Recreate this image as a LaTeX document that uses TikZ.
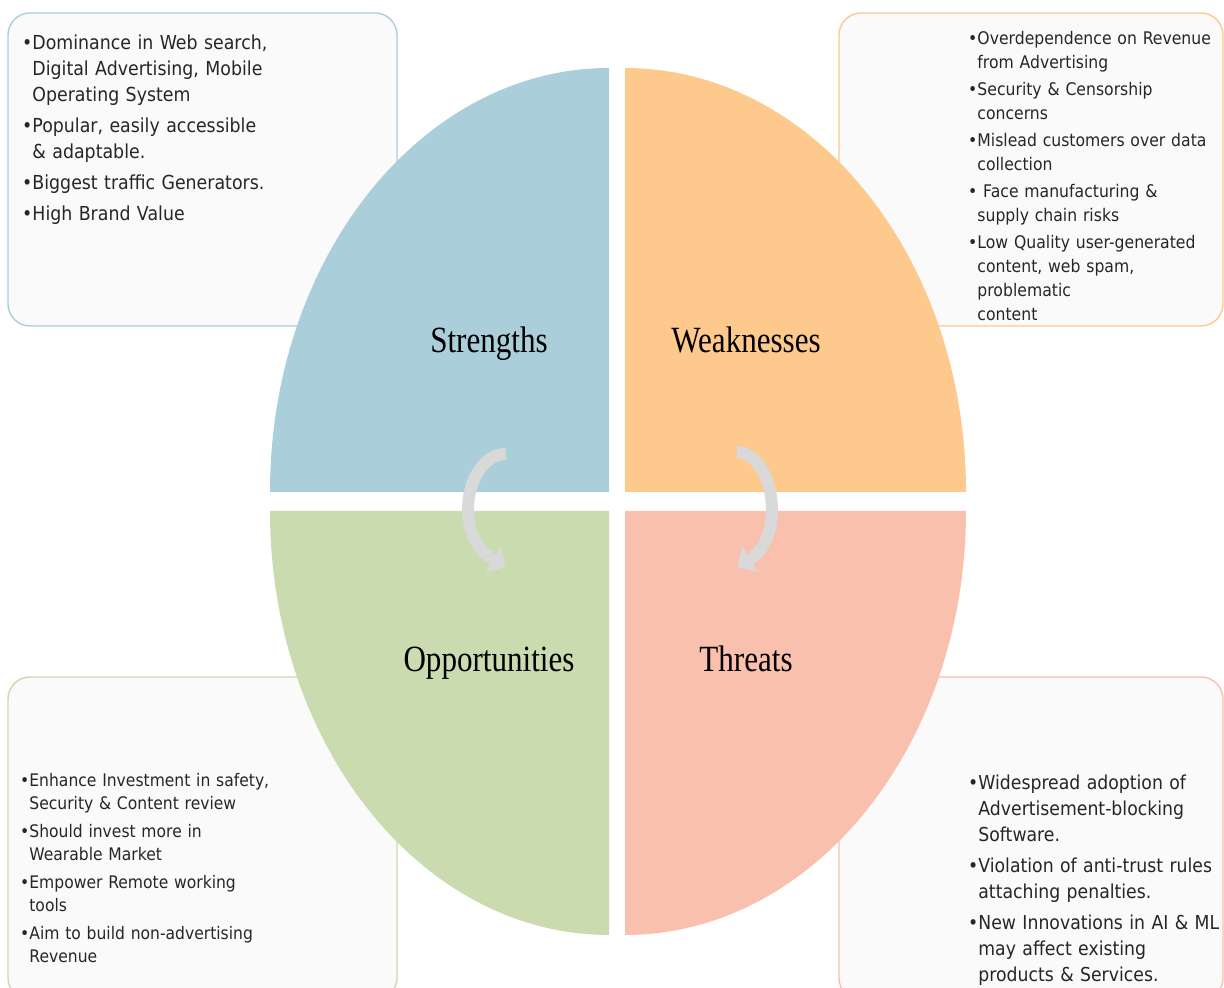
\documentclass[tikz,border=0pt]{standalone}
\usepackage{fontspec}
\setmainfont{DejaVu Sans}[FakeStretch=0.9]
\newfontfamily\titlefont{Liberation Serif}[FakeStretch=0.84]
\usetikzlibrary{arrows.meta, positioning, calc}
\definecolor{strcol}{HTML}{ABCFDA}
\definecolor{weakcol}{HTML}{FDC98C}
\definecolor{oppcol}{HTML}{C9DBAF}
\definecolor{thrcol}{HTML}{FAC0AE}
\definecolor{boxfill}{HTML}{FAFAFA}
\definecolor{cyccol}{HTML}{D9D9D9}
\definecolor{txtcol}{HTML}{262626}
\newcommand{\pitem}[1]{\par\setbox0\hbox{\textbullet}\leftskip=\wd0\noindent\llap{\textbullet}#1\par}

\begin{document}
\begin{tikzpicture}[
  x=1pt, y=1pt,
  >={Triangle[width=29pt,length=15pt]},
  infobox/.style={rounded corners=22pt, fill=boxfill, line width=1.4pt},
  title/.style={font=\titlefont\fontsize{37}{40}\selectfont, inner sep=0pt, anchor=base},
  points/.style={anchor=north west, inner sep=0pt, text width=300pt, align=left,
                 text=txtcol},
  cycarrow/.style={->, draw=cyccol, line width=12pt},
]
\useasboundingbox (0,0) rectangle (1224,988);
% info boxes behind the quadrants
\draw[infobox, draw=strcol]  (8,662) rectangle (397,975);
\draw[infobox, draw=weakcol] (839,662) rectangle (1223,975);
\draw[infobox, draw=oppcol]  (8,-12) rectangle (397,311);
\draw[infobox, draw=thrcol]  (839,-12) rectangle (1223,311);

\coordinate (Scorner) at (609,496);
\coordinate (Wcorner) at (625,496);
\coordinate (Ocorner) at (609,477);
\coordinate (Tcorner) at (625,477);
\fill[strcol]  (Scorner) -- ++(-339,0) arc[start angle=180, end angle=90, x radius=339, y radius=424] -- cycle;
\fill[weakcol] (Wcorner) -- ++(0,424) arc[start angle=90, end angle=0, x radius=341, y radius=424] -- cycle;
\fill[oppcol]  (Ocorner) -- ++(-339,0) arc[start angle=180, end angle=270, x radius=339, y radius=424] -- cycle;
\fill[thrcol]  (Tcorner) -- ++(341,0) arc[start angle=0, end angle=-90, x radius=341, y radius=424] -- cycle;

\node[title] (strengths) at (489,635) {Strengths};
\node[title] (weaknesses) at (746,635) {Weaknesses};
\node[title] (opportunities) at (489,316) {Opportunities};
\node[title] (threats) at (746,316) {Threats};

% cycle arrows
\coordinate (Scycstart) at (506,534);
\coordinate (Scycmid)   at (468,478);
\coordinate (Scycend)   at (506,421);
\coordinate (Wcycstart) at (737,536);
\coordinate (Wcycmid)   at (772,478);
\coordinate (Wcycend)   at (737,421);
\draw[cycarrow] (Scycstart) .. controls +(-22,0) and +(0,30) .. (Scycmid)
  .. controls +(0,-25) and +(-26,15) .. (Scycend);
\draw[cycarrow] (Wcycstart) .. controls +(20,0) and +(0,30) .. (Wcycmid)
  .. controls +(0,-25) and +(25,15) .. (Wcycend);

% box texts
\node[points, font=\fontsize{19.3}{26}\selectfont\setlength{\parskip}{5pt}] (strtext) at (22,970) {%
  \pitem{Dominance in Web search,\\Digital Advertising, Mobile\\Operating System}
  \pitem{Popular, easily accessible\\\& adaptable.}
  \pitem{Biggest traffic Generators.}
  \pitem{High Brand Value}};
\node[points, font=\fontsize{17.4}{24}\selectfont\setlength{\parskip}{3pt}] (weaktext) at (968,971) {%
  \pitem{Overdependence on Revenue\\from Advertising}
  \pitem{Security \& Censorship\\concerns}
  \pitem{Mislead customers over data\\collection}
  \pitem{\ Face manufacturing \&\\supply chain risks}
  \pitem{Low Quality user-generated\\content, web spam,\\problematic\\content}};
\node[points, font=\fontsize{17.3}{23}\selectfont\setlength{\parskip}{5pt}] (opptext) at (20,230) {%
  \pitem{Enhance Investment in safety,\\Security \& Content review}
  \pitem{Should invest more in\\Wearable Market}
  \pitem{Empower Remote working\\tools}
  \pitem{Aim to build non-advertising\\Revenue}};
\node[points, font=\fontsize{19.2}{26}\selectfont\setlength{\parskip}{5pt}] (thrtext) at (968,230) {%
  \pitem{Widespread adoption of\\Advertisement-blocking\\Software.}
  \pitem{Violation of anti-trust rules\\attaching penalties.}
  \pitem{New Innovations in AI \& ML\\may affect existing\\products \& Services.}};
\end{tikzpicture}
\end{document}
